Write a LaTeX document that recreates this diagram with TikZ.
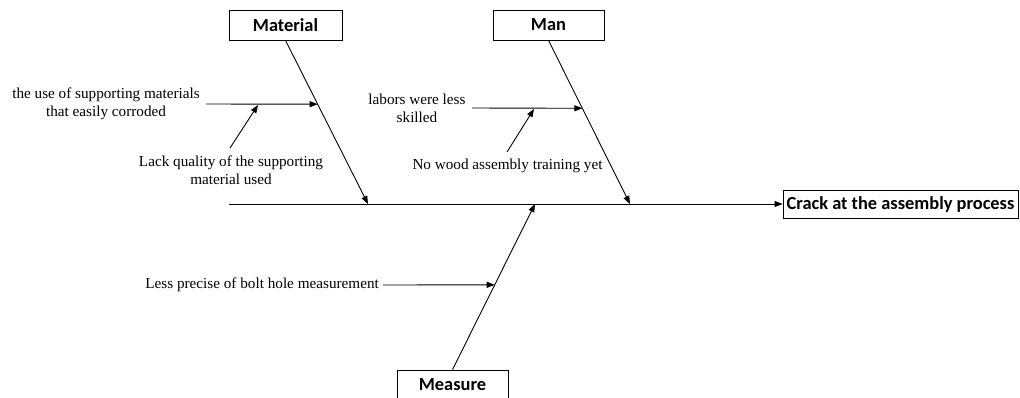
\documentclass[tikz,border=0pt]{standalone}
\usepackage{fontspec}
\setmainfont{Liberation Serif}
\newfontfamily\boxfont{Carlito}
\usetikzlibrary{arrows.meta,calc}
\begin{document}
\begin{tikzpicture}[x=1pt,y=-1pt,
  catbox/.style={draw,line width=0.8pt,inner sep=0pt,font=\boxfont\bfseries\fontsize{18.4}{20}\selectfont},
  cause/.style={font=\fontsize{15.2}{18}\selectfont,align=center,inner sep=0pt},
  bone/.style={line width=0.9pt,-{Triangle[length=8pt,width=6pt]}}]
\useasboundingbox (0,0) rectangle (1020,397);

% category boxes and effect
\node[catbox,minimum width=113pt,minimum height=30pt] (mat) at (285.5,25) {Material};
\node[catbox,minimum width=111pt,minimum height=30pt] (man) at (548.5,25) {Man};
\node[catbox,minimum width=111pt,minimum height=30pt] (mea) at (452.5,385) {Measure};
\node[catbox,minimum width=235pt,minimum height=28pt] (eff) at (900.5,204) {Crack at the assembly process};

% spine
\coordinate (tail) at (229,204);
\draw[bone] (tail) -- (eff.west);

% main bones
\coordinate (matj) at (368,204);
\coordinate (manj) at (630,204);
\coordinate (meaj) at (535,204);
\draw[bone] (mat.south) -- (matj);
\draw[bone] (man.south) -- (manj);
\draw[bone] (mea.north) -- (meaj);

% cause texts
\node[cause] (c1) at (106,104) {the use of supporting materials\\that easily corroded};
\node[cause] (c2) at (231,170) {Lack quality of the supporting\\material used};
\node[cause] (c3) at (417,108) {labors were less\\skilled};
\node[cause] (c4) at (507.5,166) {No wood assembly training yet};
\node[cause,anchor=east] (c5) at (379,285) {Less precise of bolt hole measurement};

% Material branch
\coordinate (b1s) at (206,104);
\coordinate (b1e) at ($(mat.south)!0.39!(matj)$);
\draw[bone] (b1s) -- (b1e);
\coordinate (b2s) at (230,148);
\coordinate (b2e) at (258,105);
\draw[bone] (b2s) -- (b2e);

% Man branch
\coordinate (b3s) at (472,108);
\coordinate (b3e) at ($(man.south)!0.415!(manj)$);
\draw[bone] (b3s) -- (b3e);
\coordinate (b4s) at (507,152);
\coordinate (b4e) at (534,109);
\draw[bone] (b4s) -- (b4e);

% Measure branch
\coordinate (b5e) at ($(mea.north)!0.512!(meaj)$);
\draw[bone] ([xshift=4pt]c5.east) -- (b5e);
\end{tikzpicture}
\end{document}
